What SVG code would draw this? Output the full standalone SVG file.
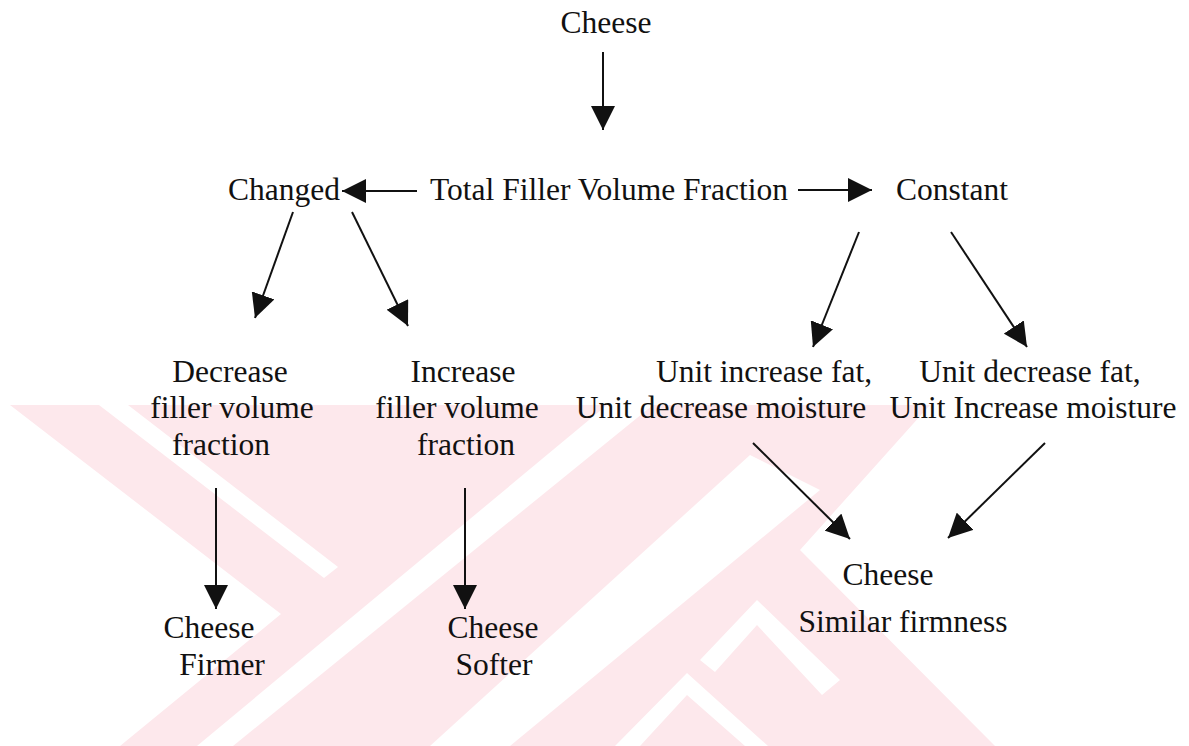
<svg xmlns="http://www.w3.org/2000/svg" width="1189" height="746" viewBox="0 0 1189 746">
<style>
.t{font-family:"Liberation Serif","Times New Roman",serif;font-size:31.5px;fill:#111;text-anchor:middle}
.c{stroke:#111;stroke-width:2;fill:none}
.wm{fill:#fde8ec}
.wg{fill:#ffffff}
</style>
<defs>
<marker id="ah" markerUnits="userSpaceOnUse" markerWidth="24" markerHeight="24" viewBox="0 0 22 22" refX="22" refY="11" orient="auto">
<path d="M0,0 L22,11 L0,22 Z" fill="#111"/>
</marker>
</defs>
<rect width="1189" height="746" fill="#fff"/>
<g id="watermark">
<polygon class="wm" points="10,405 930,405 800,550 995,746 120,746 281,614"/>
<polygon class="wg" points="99,405 128,405 338,567 324,578"/>
<polygon class="wg" points="197,746 233,746 653,405 607,405"/>
<polygon class="wg" points="430,746 510,746 820,490 750,455"/>
<polygon class="wg" points="615,746 687,673 768,746 745,746 687,695 640,746"/>
<polygon class="wg" points="700,660 757,600 840,680 822,695 757,625 715,672"/>
</g>
<g id="connectors">
<line class="c" x1="603" y1="52" x2="603" y2="130" marker-end="url(#ah)"/>
<line class="c" x1="417" y1="191" x2="342" y2="191" marker-end="url(#ah)"/>
<line class="c" x1="798" y1="190" x2="872" y2="190" marker-end="url(#ah)"/>
<line class="c" x1="293" y1="212" x2="255" y2="318" marker-end="url(#ah)"/>
<line class="c" x1="352" y1="212" x2="408" y2="326" marker-end="url(#ah)"/>
<line class="c" x1="859" y1="232" x2="813" y2="347" marker-end="url(#ah)"/>
<line class="c" x1="951" y1="232" x2="1027" y2="347" marker-end="url(#ah)"/>
<line class="c" x1="216" y1="488" x2="216" y2="609" marker-end="url(#ah)"/>
<line class="c" x1="465" y1="488" x2="465" y2="609" marker-end="url(#ah)"/>
<line class="c" x1="753" y1="443" x2="850" y2="539" marker-end="url(#ah)"/>
<line class="c" x1="1045" y1="443" x2="948" y2="538" marker-end="url(#ah)"/>
</g>
<g id="n-cheese-top"><text class="t" x="606" y="33">Cheese</text></g>
<g id="n-changed"><text class="t" x="284" y="200">Changed</text></g>
<g id="n-total"><text class="t" x="609" y="200">Total Filler Volume Fraction</text></g>
<g id="n-constant"><text class="t" x="952" y="200">Constant</text></g>
<g id="n-decrease"><text class="t" x="230" y="382">Decrease</text><text class="t" x="232" y="418">filler volume</text><text class="t" x="221" y="455">fraction</text></g>
<g id="n-increase"><text class="t" x="463" y="382">Increase</text><text class="t" x="457" y="418">filler volume</text><text class="t" x="466" y="455">fraction</text></g>
<g id="n-unit-inc-fat"><text class="t" x="764" y="382">Unit increase fat,</text><text class="t" x="721" y="418">Unit decrease moisture</text></g>
<g id="n-unit-dec-fat"><text class="t" x="1030" y="382">Unit decrease fat,</text><text class="t" x="1033" y="418">Unit Increase moisture</text></g>
<g id="n-firmer"><text class="t" x="209" y="638">Cheese</text><text class="t" x="222" y="675">Firmer</text></g>
<g id="n-softer"><text class="t" x="493" y="638">Cheese</text><text class="t" x="494" y="675">Softer</text></g>
<g id="n-similar"><text class="t" x="888" y="585">Cheese</text><text class="t" x="903" y="632">Similar firmness</text></g>
</svg>
